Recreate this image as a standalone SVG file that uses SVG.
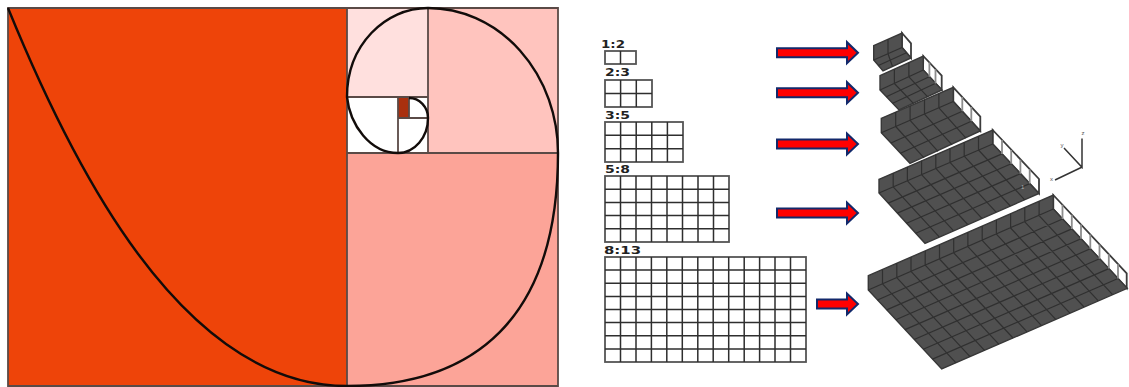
<svg xmlns="http://www.w3.org/2000/svg" width="1129" height="387" viewBox="0 0 1129 387">
<defs>
<path id="arrow" d="M0 -4.5H70V-10.5L81 0L70 10.5V4.5H0Z"/>
</defs>
<style>
.fr{stroke:#5a4a46;stroke-width:1.8;fill:none}
.sp{stroke:#120c0a;stroke-width:2.4;fill:none}
.gl{stroke:#2e2e2e;stroke-width:1.5;fill:none}
.go{stroke:#555;stroke-width:1.8;fill:#fff}
.lb{font-family:"DejaVu Sans",sans-serif;font-weight:bold;font-size:10px;fill:#222}
.ar{fill:#f00;stroke:#12296b;stroke-width:2}
.fl{fill:#505050;stroke:#383838;stroke-width:1.4}
.ln{stroke:#303030;stroke-width:1.2;fill:none}
.wl{fill:#fff;stroke:#3c3c3c;stroke-width:1.8}
.po{stroke:#8c8c8c;stroke-width:1.8;fill:none}
.ax{stroke:#333;stroke-width:1.5;fill:none}
.al{font-family:"Liberation Sans",sans-serif;font-size:6px;fill:#555}
</style>
<rect width="1129" height="387" fill="#fff"/>
<g id="golden-spiral">
<rect x="8" y="8" width="339" height="378" fill="#ee4409"/>
<rect x="347" y="153" width="211" height="233" fill="#fca498"/>
<rect x="428" y="8" width="130" height="145" fill="#ffc4be"/>
<rect x="347" y="8" width="81" height="89" fill="#ffe0de"/>
<rect x="398" y="97" width="11" height="21" fill="#a9300f"/>
<path class="fr" d="M8 8H558V386H8ZM347 8V386M347 153H558M428 8V153M347 97H428M398 97V153M398 118H428M409 97V118"/>
<path class="sp" d="M8 8C70 160 180 386 347 386C473 386 558 320 558 153A130 145 0 0 0 428 8C385 8 347 45 347 97C350 125 370 153 398 153A30 35 0 0 0 428 118A19 20 0 0 0 409 98"/>
</g>
<g id="grid-1-2"><text class="lb" x="601" y="48" textLength="24" lengthAdjust="spacingAndGlyphs">1:2</text><rect class="go" x="605" y="51" width="31" height="13"/><path class="gl" d="M620.5 51V64"/></g>
<g id="grid-2-3"><text class="lb" x="605" y="76" textLength="25" lengthAdjust="spacingAndGlyphs">2:3</text><rect class="go" x="605" y="80" width="47" height="27"/><path class="gl" d="M620.6 80V107M636.3 80V107M605 93.5H652"/></g>
<g id="grid-3-5"><text class="lb" x="605" y="119" textLength="25" lengthAdjust="spacingAndGlyphs">3:5</text><rect class="go" x="605" y="122" width="78" height="40"/><path class="gl" d="M620.6 122V162M636.2 122V162M651.8 122V162M667.4 122V162M605 135.3H683M605 148.7H683"/></g>
<g id="grid-5-8"><text class="lb" x="605" y="173" textLength="25" lengthAdjust="spacingAndGlyphs">5:8</text><rect class="go" x="605" y="176" width="124" height="66"/><path class="gl" d="M620.5 176V242M636 176V242M651.5 176V242M667 176V242M682.5 176V242M698 176V242M713.5 176V242M605 189.2H729M605 202.4H729M605 215.6H729M605 228.8H729"/></g>
<g id="grid-8-13"><text class="lb" x="604" y="254" textLength="37" lengthAdjust="spacingAndGlyphs">8:13</text><rect class="go" x="605" y="257" width="201" height="105"/><path class="gl" d="M620.5 257V362M636 257V362M651.4 257V362M666.8 257V362M682.3 257V362M697.8 257V362M713.2 257V362M728.7 257V362M744.2 257V362M759.6 257V362M775 257V362M790.5 257V362M605 270.1H806M605 283.3H806M605 296.4H806M605 309.5H806M605 322.6H806M605 335.8H806M605 348.9H806"/></g>
<g id="connectors">
<use href="#arrow" class="ar" x="777" y="52.7"/>
<use href="#arrow" class="ar" x="777" y="92.7"/>
<use href="#arrow" class="ar" x="777" y="144"/>
<use href="#arrow" class="ar" x="777" y="213"/>
<path class="ar" d="M817 299.5H847V293.5L858 304L847 314.5V308.5H817Z"/>
</g>
<g id="plate-1"><path class="wl" d="M902 33L911 43.3V58L902 47.5Z"/><path class="fl" d="M873.7 45.7L902 33V47.5L911 58L883 71L873.7 60Z"/><path class="ln" d="M888 39.3V53.8M873.7 60L902 47.5M878.4 65.5L906.5 52.7M892.5 66.5L888 53.8"/></g>
<g id="plate-2"><path class="wl" d="M923.3 56L941.7 75.7V90L923 70Z"/><path class="fl" d="M880 75.7L923.3 56V70L942 90L899 110L880 90Z"/><path class="ln" d="M894.4 69.2V83.5M908.9 62.6V76.8M880 90L923.3 70M886.3 96.7L929.3 76.7M892.7 103.3L935.7 83.3M894.4 83.5L913.4 103.3M908.9 76.8L927.7 96.8"/><path class="po" d="M929.4 62.6V76.7M935.5 69.2V83.5"/></g>
<g id="plate-3"><path class="wl" d="M953.3 87.3L980.3 116.7V131L953.3 101.5Z"/><path class="fl" d="M881.3 118.3L953.3 87.3V101.5L980.3 131L910 163.3L881.3 132.7Z"/><path class="ln" d="M895.7 112.1V126.5M910.1 105.9V120.3M924.5 99.7V114.1M938.9 93.5V107.9M881.3 132.7L953.3 101.5M890.9 143L962.3 111.3M900.4 153.2L971.3 121.2M895.7 126.5L924 157.8M910.1 120.3L938 151.4M924.5 114.1L952 144.9M938.9 107.9L966 138.2"/><path class="po" d="M962.3 97.1V111.3M971.3 107V121.2"/></g>
<g id="plate-4"><path class="wl" d="M992.7 130L1039 179V193.5L992.7 144Z"/><path class="fl" d="M879 179.3L992.7 130V144L1039 193.5L925 243.3L879 193Z"/><path class="ln" d="M893.2 173.1V186.9M907.4 167V180.8M921.6 160.8V174.6M935.8 154.6V168.4M950 148.5V162.3M964.2 142.3V156.1M978.5 136.2V150M879 193L992.7 144M888.2 203.1L1002 153.9M897.4 213.1L1011.2 163.8M906.6 223.2L1020.4 173.7M915.8 233.2L1029.7 183.6M893.2 186.9L939.2 236.9M907.4 180.8L953.4 230.7M921.6 174.6L967.7 224.5M935.8 168.4L981.9 218.4M950 162.3L996.1 212.2M964.2 156.1L1010.3 206M978.5 150L1024.7 199.8"/><path class="po" d="M1002 140V153.9M1011.2 150V163.8M1020.4 159.8V173.7M1029.7 169.2V183.6"/>
<text class="al" x="1021" y="189" style="fill:#aaa">1</text></g>
<g id="plate-5"><path class="wl" d="M1053.3 195L1126.7 273.3V288.3L1053.3 209Z"/><path class="fl" d="M868.3 275.7L1053.3 195V209L1127.3 288.3L941.7 369L868.3 290Z"/><path class="ln" d="M882.5 269.5V283.8M896.8 263.3V277.6M911 257.1V271.4M925.2 250.9V265.2M939.5 244.7V259M953.7 238.5V252.8M967.9 232.3V246.6M982.2 226.1V240.4M996.4 219.9V234.2M1010.6 213.7V228M1024.8 207.5V221.8M1039.1 201.3V215.6M868.3 290L1053.3 209M877.5 300L1062.5 219M886.7 309.9L1071.8 228.9M895.8 319.8L1081 238.8M905 329.6L1090.3 248.8M914.2 339.5L1099.5 258.7M923.3 349.3L1108.8 268.6M932.5 359.1L1118 278.5M882.5 283.8L956 362.8M896.8 277.6L970 356.6M911 271.4L984.5 350.4M925.2 265.2L998.7 344.2M939.5 259L1013 338M953.7 252.8L1027 331.8M967.9 246.6L1041.5 325.6M982.2 240.4L1055.7 319.4M996.4 234.2L1069.9 313.2M1010.6 228L1084 307M1024.8 221.8L1098.3 300.8M1039.1 215.6L1112.6 294.6"/><path class="po" d="M1062.5 204.8V219M1071.8 214.7V228.9M1081 224.6V238.8M1090.3 234.5V248.8M1099.5 244.5V258.7M1108.8 254.3V268.6M1118 264.2V278.5"/></g>
<g id="axes"><path class="ax" d="M1082 138.5V167.3L1064 148M1081.7 167.3L1055 180"/><text class="al" x="1081.5" y="135">z</text><text class="al" x="1060.5" y="147">y</text><text class="al" x="1050" y="181">x</text></g>
</svg>
